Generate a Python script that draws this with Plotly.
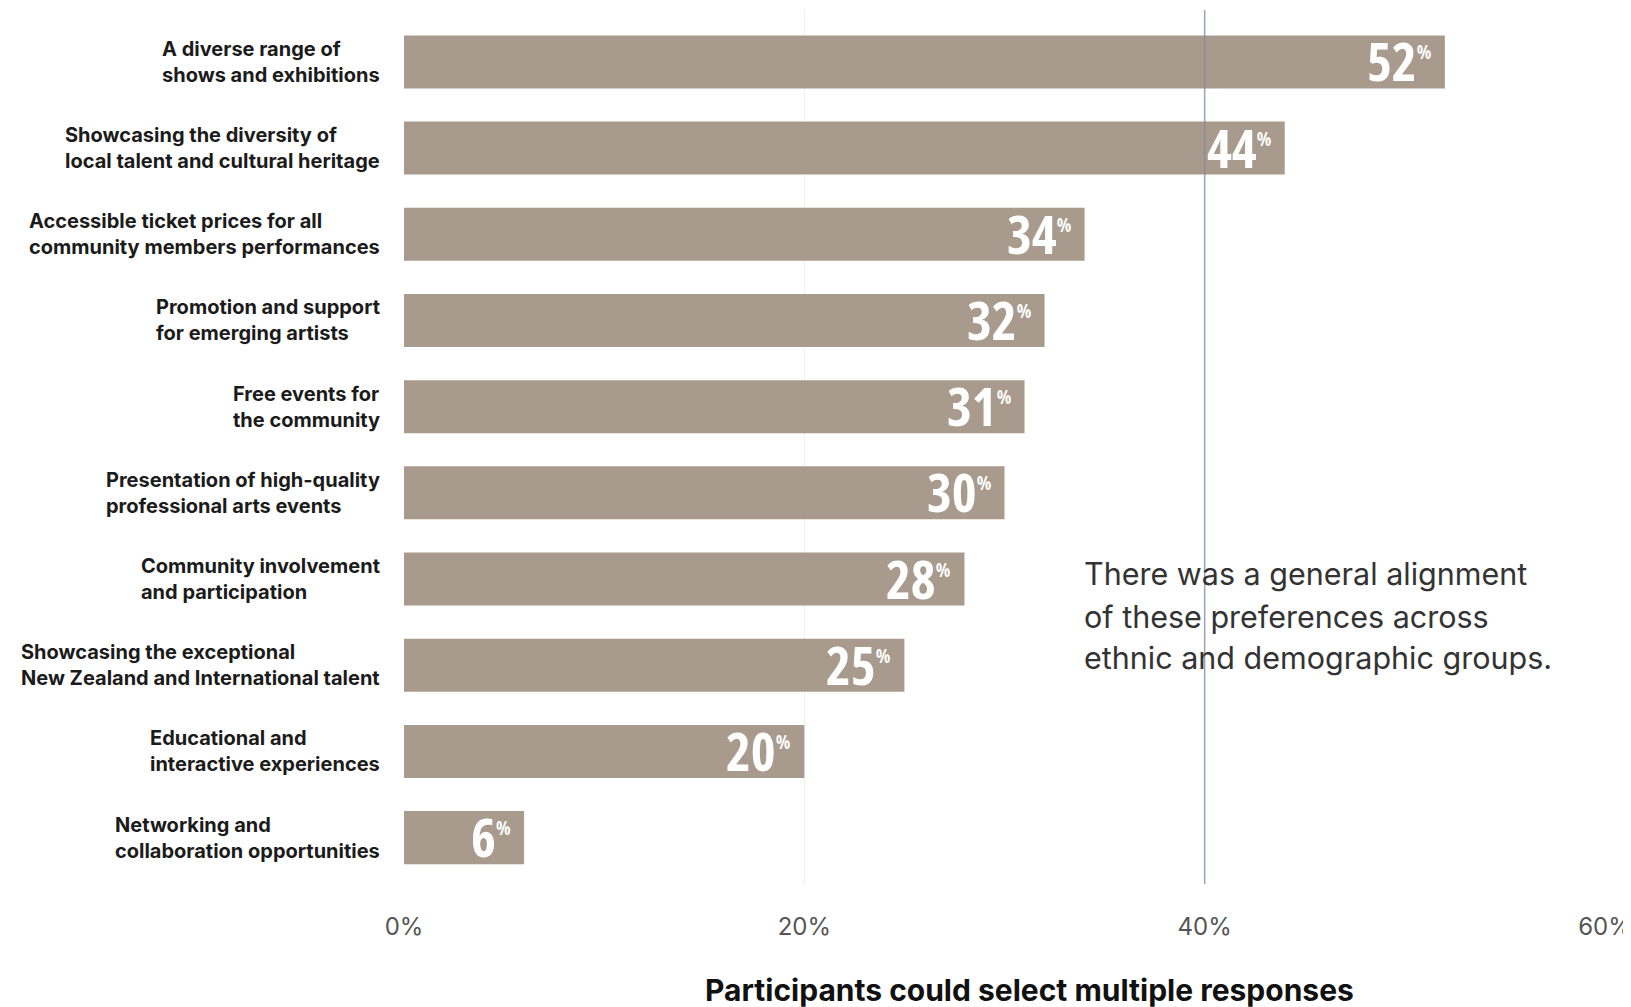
import plotly.graph_objects as go

# ---- data ----
categories = [
    "A diverse range of<br>shows and exhibitions",
    "Showcasing the diversity of<br>local talent and cultural heritage",
    "Accessible ticket prices for all<br>community members performances",
    "Promotion and support<br>for emerging artists",
    "Free events for<br>the community",
    "Presentation of high-quality<br>professional arts events",
    "Community involvement<br>and participation",
    "Showcasing the exceptional<br>New Zealand and International talent",
    "Educational and<br>interactive experiences",
    "Networking and<br>collaboration opportunities",
]
values = [52, 44, 34, 32, 31, 30, 28, 25, 20, 6]
tick_values = [0, 20, 40, 60]
tick_labels = ["0%", "20%", "40%", "60%"]
highlight_tick = 40
note_lines = [
    "There was a general alignment",
    "of these preferences across",
    "ethnic and demographic groups.",
]
axis_note = "Participants could select multiple responses"

# ---- styles ----
# page body has an 8px default margin, so the figure is 8px smaller than the window
W, H = 1623, 999
ML, MR, MT, MB = 396, 26, 2, 123
BAR_COLOR = "#a89b8d"
LABEL_FONT = dict(family="Inter, Roboto, sans-serif", size=20, color="#1b1b1b", weight=700)
VALUE_FONT = dict(family="Open Sans, Noto Sans, sans-serif",
                  size=53, color="#ffffff", weight=700)

fig = go.Figure()
fig.add_trace(go.Bar(
    x=values, y=categories, orientation="h",
    marker=dict(color=BAR_COLOR, line=dict(width=0)),
    width=0.615, hoverinfo="skip",
))

annotations = []
for cat, v in zip(categories, values):
    annotations.append(dict(
        x=0, xref="paper", xshift=-22, xanchor="right",
        y=cat, yref="y", yanchor="middle", align="left",
        text=cat, showarrow=False, font=LABEL_FONT,
    ))
    annotations.append(dict(
        x=v, xref="x", xshift=-11, xanchor="right",
        y=cat, yref="y", yanchor="middle", yshift=1,
        text=(f"<span style='font-stretch:75%'>{v}</span>"
              f"<sup><span style='font-size:19px;font-stretch:75%'>%</span></sup>"),
        showarrow=False, font=VALUE_FONT,
    ))

note_y = [0.3558, 0.3066, 0.2586]
for line, yy in zip(note_lines, note_y):
    annotations.append(dict(
        x=0.5645, xref="paper", xanchor="left",
        y=yy, yref="paper", yanchor="middle",
        text=line, showarrow=False,
        font=dict(family="Inter, Roboto, sans-serif", size=30.5, color="#333333"),
    ))

annotations.append(dict(
    x=0.521, xref="paper", xanchor="center",
    y=-0.1213, yref="paper", yanchor="middle",
    text=axis_note, showarrow=False,
    font=dict(family="Inter, Roboto, sans-serif", size=30, color="#111111", weight=700),
))

fig.update_layout(
    width=W, height=H,
    margin=dict(l=ML, r=MR, t=MT, b=MB, autoexpand=False),
    paper_bgcolor="white", plot_bgcolor="white",
    showlegend=False,
    annotations=annotations,
    shapes=[dict(
        type="line", xref="x", yref="paper",
        x0=highlight_tick, x1=highlight_tick, y0=0, y1=1,
        line=dict(color="rgba(130,135,160,0.75)", width=1.5),
        layer="above",
    )],
    xaxis=dict(
        range=[0, 60], tickvals=tick_values, ticktext=tick_labels,
        showgrid=True, gridcolor="#efefef", gridwidth=1,
        zeroline=False, showline=False, ticks="",
        ticklabelstandoff=26, ticklabeloverflow="allow",
        tickfont=dict(family="Inter, Roboto, sans-serif", size=24, color="#555555"),
        fixedrange=True,
    ),
    yaxis=dict(
        type="category", range=[9.538, -0.602],
        showticklabels=False, showgrid=False, zeroline=False, showline=False,
        fixedrange=True,
    ),
)

fig.write_html("out.html")
